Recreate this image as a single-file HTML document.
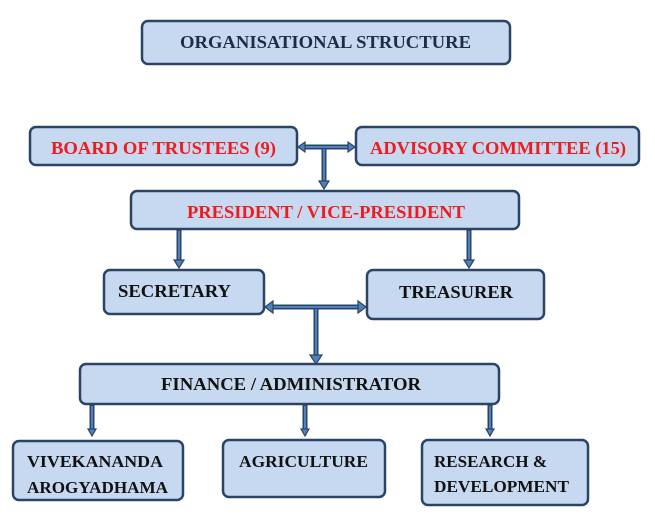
<!DOCTYPE html>
<html><head><meta charset="utf-8"><style>
html,body{margin:0;padding:0;background:#fff;}
svg{display:block}
</style></head><body>
<svg width="655" height="528" viewBox="0 0 655 528">
<g fill="#c6d9f1" stroke="#2b4466" stroke-width="2.5">
<rect x="142" y="21" width="368" height="43" rx="6"/>
<rect x="30" y="127" width="267" height="38" rx="6"/>
<rect x="356" y="127" width="283" height="38" rx="6"/>
<rect x="131" y="191" width="388" height="38" rx="6"/>
<rect x="104" y="270" width="160" height="44" rx="6"/>
<rect x="367" y="270" width="177" height="49" rx="6"/>
<rect x="80" y="364" width="419" height="40" rx="6"/>
<rect x="13" y="441" width="170" height="59" rx="6"/>
<rect x="223" y="440" width="162" height="57" rx="6"/>
<rect x="422" y="440" width="166" height="65" rx="6"/>
</g>
<g stroke="#2b4466" stroke-width="5" fill="none">
<line x1="303" y1="147" x2="350" y2="147"/>
<line x1="324" y1="147" x2="324" y2="182"/>
<line x1="179" y1="230" x2="179" y2="261"/>
<line x1="469" y1="230" x2="469" y2="261"/>
<line x1="270" y1="307" x2="361" y2="307"/>
<line x1="316" y1="307" x2="316" y2="356"/>
<line x1="92" y1="405" x2="92" y2="430"/>
<line x1="305" y1="405" x2="305" y2="430"/>
<line x1="490" y1="405" x2="490" y2="430"/>
</g>
<g stroke="#4f81bd" stroke-width="2" fill="none">
<line x1="303" y1="147" x2="350" y2="147"/>
<line x1="324" y1="149" x2="324" y2="182"/>
<line x1="179" y1="231" x2="179" y2="261"/>
<line x1="469" y1="231" x2="469" y2="261"/>
<line x1="270" y1="307" x2="361" y2="307"/>
<line x1="316" y1="309" x2="316" y2="356"/>
<line x1="92" y1="406" x2="92" y2="430"/>
<line x1="305" y1="406" x2="305" y2="430"/>
<line x1="490" y1="406" x2="490" y2="430"/>
</g>
<g fill="#4f81bd" stroke="#2b4466" stroke-width="1.2">
<polygon points="298,147 305,142 305,152"/>
<polygon points="355,147 348,142 348,152"/>
<polygon points="319,181 329,181 324,189"/>
<polygon points="174,260 184,260 179,268"/>
<polygon points="464,260 474,260 469,268"/>
<polygon points="265,307 273,301 273,313"/>
<polygon points="366,307 358,301 358,313"/>
<polygon points="310,355 322,355 316,364"/>
<polygon points="88,429 96,429 92,436"/>
<polygon points="301,429 309,429 305,436"/>
<polygon points="486,429 494,429 490,436"/>
</g>
<g font-family="'Liberation Serif','DejaVu Serif',serif" font-weight="bold" font-size="18" lengthAdjust="spacingAndGlyphs">
<text x="180" y="48" textLength="291" lengthAdjust="spacingAndGlyphs" fill="#1f2d44">ORGANISATIONAL STRUCTURE</text>
<text x="51" y="154" textLength="225" lengthAdjust="spacingAndGlyphs" fill="#ee1c1c">BOARD OF TRUSTEES (9)</text>
<text x="370" y="154" textLength="256" lengthAdjust="spacingAndGlyphs" fill="#ee1c1c">ADVISORY COMMITTEE (15)</text>
<text x="187" y="218" textLength="278" lengthAdjust="spacingAndGlyphs" fill="#ee1c1c">PRESIDENT / VICE-PRESIDENT</text>
<text x="118" y="297" textLength="113" lengthAdjust="spacingAndGlyphs" fill="#111">SECRETARY</text>
<text x="399" y="298" textLength="114" lengthAdjust="spacingAndGlyphs" fill="#111">TREASURER</text>
<text x="161" y="390" textLength="260" lengthAdjust="spacingAndGlyphs" fill="#111">FINANCE / ADMINISTRATOR</text>
<text x="27" y="467" textLength="136" lengthAdjust="spacingAndGlyphs" font-size="17" fill="#111">VIVEKANANDA</text>
<text x="27" y="493" textLength="141" lengthAdjust="spacingAndGlyphs" font-size="17" fill="#111">AROGYADHAMA</text>
<text x="239" y="467" textLength="129" lengthAdjust="spacingAndGlyphs" font-size="17" fill="#111">AGRICULTURE</text>
<text x="434" y="467" textLength="113" lengthAdjust="spacingAndGlyphs" font-size="17" fill="#111">RESEARCH &amp;</text>
<text x="434" y="492" textLength="135" lengthAdjust="spacingAndGlyphs" font-size="17" fill="#111">DEVELOPMENT</text>
</g>
</svg>
</body></html>
